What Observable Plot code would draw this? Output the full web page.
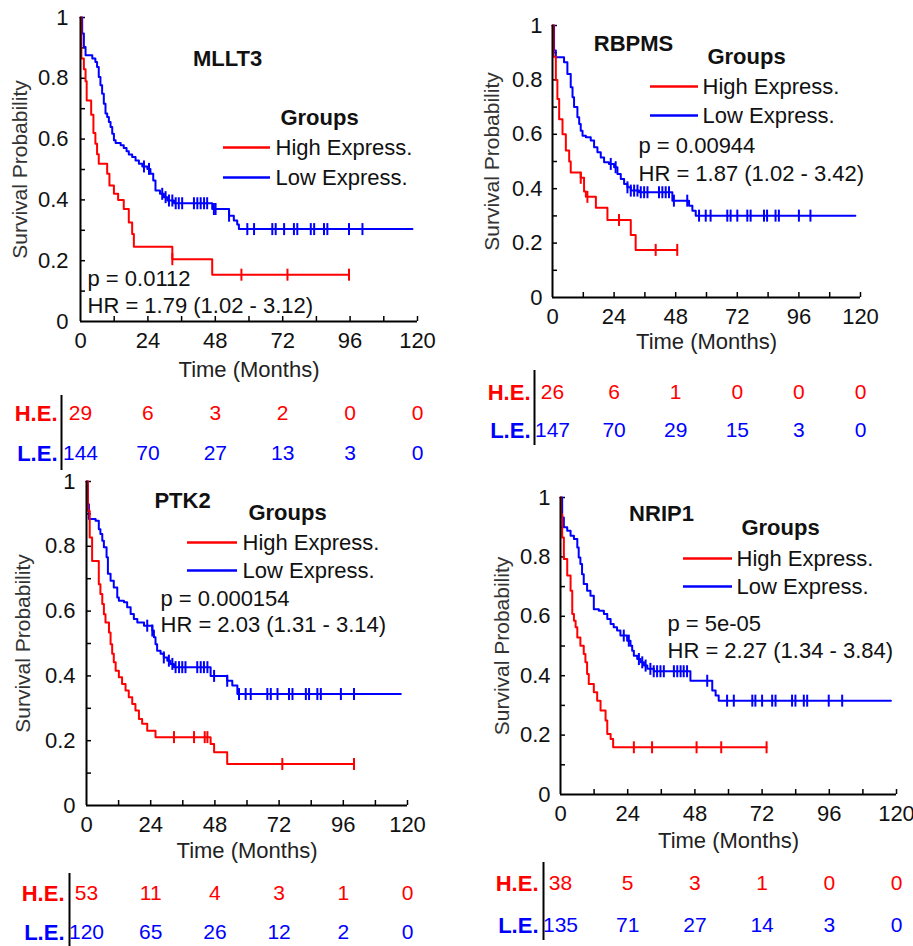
<!DOCTYPE html>
<html><head><meta charset="utf-8">
<script src="https://cdn.jsdelivr.net/npm/d3@7"></script>
<script src="https://cdn.jsdelivr.net/npm/@observablehq/plot@0.6"></script>
<style>
body{margin:0;background:#fff;}
#chart{position:relative;width:913px;height:946px;overflow:hidden;background:#fff;font-family:"Liberation Sans",Arial,sans-serif;}
#chart svg{position:absolute;overflow:visible;}
</style></head><body><div id="chart"></div>
<script>
// ---------- shared tick labels ----------
const xMajor = [0, 24, 48, 72, 96, 120];
const xMinor = [12, 24, 36, 48, 60, 72, 84, 96, 108, 120];
const yMajor = [0, 0.2, 0.4, 0.6, 0.8, 1];
const yMinor = [0.1, 0.2, 0.3, 0.4, 0.5, 0.6, 0.7, 0.8, 0.9, 1];
const riskTimes = [0, 24, 48, 72, 96, 120];
const groupNames = ["High Express.", "Low Express."];
const rowNames = ["H.E.", "L.E."];

// ---------- MLLT3 ----------
const mllt3HighT = [0, 0.3, 1.2, 1.8, 2.2, 3.8, 4.6, 5.3, 5.9, 6.5, 9.5, 10.3, 11.9, 13.4, 15.4, 17.2, 18.4, 19.0, 32.7, 46.9, 95.6];
const mllt3HighS = [1, 0.865, 0.83, 0.79, 0.727, 0.68, 0.62, 0.585, 0.55, 0.519, 0.486, 0.447, 0.42, 0.40, 0.37, 0.326, 0.288, 0.246, 0.205, 0.154, 0.154];
const mllt3HighCens = [32.7, 57.3, 73.7, 95.6];
const mllt3LowT = [0, 0.6, 1.2, 1.8, 4.2, 5.3, 5.9, 6.5, 7.1, 7.7, 8.3, 8.9, 9.5, 10.1, 10.7, 11.3, 11.9, 12.5, 14.3, 15.4, 16.4, 17.2, 18.4, 19.6, 20.8, 22.0, 23.8, 24.9, 25.9, 26.7, 28.3, 29.7, 30.9, 33.3, 46.9, 52.9, 54.6, 55.8, 56.4, 118.2];
const mllt3LowS = [1, 0.947, 0.903, 0.876, 0.865, 0.854, 0.837, 0.804, 0.777, 0.749, 0.716, 0.684, 0.673, 0.656, 0.640, 0.618, 0.596, 0.587, 0.580, 0.571, 0.560, 0.549, 0.541, 0.530, 0.519, 0.510, 0.502, 0.486, 0.464, 0.431, 0.420, 0.409, 0.398, 0.389, 0.370, 0.348, 0.332, 0.319, 0.304, 0.304];
const mllt3LowCens = [22.6, 24.4, 29.1, 30.3, 31.5, 32.7, 33.9, 35.0, 36.2, 40.4, 41.6, 42.8, 44.0, 45.1, 47.5, 48.1, 52.9, 59.4, 61.8, 68.3, 69.5, 72.5, 76.0, 77.2, 82.0, 83.2, 86.7, 87.9, 95.6, 100.4];
const mllt3RiskHigh = [29, 6, 3, 2, 0, 0];
const mllt3RiskLow = [144, 70, 27, 13, 3, 0];
const mllt3Stats = ["p = 0.0112", "HR = 1.79 (1.02 - 3.12)"];

// ---------- RBPMS ----------
const rbpmsHighT = [0, 0.4, 1.3, 1.9, 2.6, 3.9, 5.2, 6.5, 7.1, 11.0, 12.3, 13.0, 16.9, 21.4, 30.5, 32.4, 48.6];
const rbpmsHighS = [1, 0.885, 0.80, 0.73, 0.655, 0.60, 0.54, 0.50, 0.46, 0.44, 0.39, 0.37, 0.33, 0.285, 0.23, 0.175, 0.175];
const rbpmsHighCens = [11.0, 13.6, 25.9, 40.2, 48.6];
const rbpmsLowT = [0, 0.6, 1.3, 4.5, 5.8, 7.1, 7.8, 8.4, 9.7, 10.4, 11.0, 11.7, 13.0, 14.9, 16.2, 17.5, 18.8, 20.1, 22.0, 24.0, 25.3, 26.6, 27.9, 29.2, 30.5, 33.7, 46.7, 53.2, 54.5, 55.8, 118];
const rbpmsLowS = [1, 0.908, 0.883, 0.865, 0.822, 0.773, 0.736, 0.70, 0.663, 0.638, 0.613, 0.595, 0.589, 0.577, 0.552, 0.534, 0.515, 0.497, 0.491, 0.479, 0.454, 0.436, 0.417, 0.405, 0.393, 0.387, 0.356, 0.337, 0.319, 0.301, 0.301];
const rbpmsLowCens = [22.7, 24.6, 29.2, 30.5, 31.8, 33.1, 34.4, 35.7, 37.0, 41.5, 42.8, 44.1, 45.4, 47.3, 52.5, 57.1, 59.7, 61.6, 68.1, 69.4, 72.0, 75.9, 77.2, 82.4, 83.6, 86.9, 88.2, 96.0, 100.5];
const rbpmsRiskHigh = [26, 6, 1, 0, 0, 0];
const rbpmsRiskLow = [147, 70, 29, 15, 3, 0];
const rbpmsStats = ["p = 0.00944", "HR = 1.87 (1.02 - 3.42)"];

// ---------- PTK2 ----------
const ptk2HighT = [0, 0.5, 1.2, 2.1, 4.6, 5.2, 5.9, 6.5, 7.1, 8.4, 9.0, 9.6, 10.2, 10.9, 12.1, 13.3, 14.6, 15.8, 17.1, 18.3, 19.6, 20.8, 22.7, 25.8, 46.4, 47.7, 52.6, 100];
const ptk2HighS = [1, 0.91, 0.827, 0.755, 0.683, 0.653, 0.622, 0.59, 0.565, 0.534, 0.498, 0.468, 0.442, 0.416, 0.396, 0.375, 0.355, 0.334, 0.313, 0.293, 0.267, 0.252, 0.231, 0.211, 0.19, 0.164, 0.128, 0.128];
const ptk2HighCens = [32.7, 40.2, 44.2, 45.2, 73.2, 100];
const ptk2LowT = [0, 0.5, 0.9, 3.4, 4.6, 5.2, 5.9, 6.5, 7.5, 8.0, 9.0, 10.2, 11.5, 12.1, 14.0, 15.2, 16.5, 17.7, 19.0, 21.5, 24.6, 25.2, 25.8, 26.4, 27.7, 28.9, 30.2, 31.4, 32.7, 46.4, 52.6, 54.5, 56.4, 117.5];
const ptk2LowS = [1, 0.93, 0.884, 0.879, 0.853, 0.838, 0.817, 0.797, 0.766, 0.715, 0.694, 0.673, 0.642, 0.632, 0.627, 0.612, 0.591, 0.576, 0.565, 0.555, 0.54, 0.519, 0.498, 0.478, 0.468, 0.457, 0.447, 0.437, 0.427, 0.40, 0.385, 0.37, 0.344, 0.344];
const ptk2LowCens = [22.7, 24.6, 28.9, 30.8, 32.1, 33.3, 34.6, 35.8, 37.0, 41.4, 42.7, 43.9, 45.2, 47.7, 52.6, 57.0, 59.5, 61.4, 67.6, 68.9, 71.4, 75.7, 77.0, 82.0, 83.2, 86.3, 87.6, 95.1, 100.0];
const ptk2RiskHigh = [53, 11, 4, 3, 1, 0];
const ptk2RiskLow = [120, 65, 26, 12, 2, 0];
const ptk2Stats = ["p = 0.000154", "HR = 2.03 (1.31 - 3.14)"];

// ---------- NRIP1 ----------
const nrip1HighT = [0, 0.2, 0.6, 1.2, 2.4, 3.6, 4.2, 4.8, 5.4, 6.0, 7.1, 8.3, 8.9, 9.5, 10.1, 11.9, 13.1, 14.3, 16.1, 16.7, 17.9, 18.8, 73.6];
const nrip1HighS = [1, 0.944, 0.865, 0.793, 0.737, 0.686, 0.608, 0.585, 0.563, 0.529, 0.501, 0.473, 0.445, 0.406, 0.372, 0.344, 0.316, 0.283, 0.249, 0.204, 0.187, 0.159, 0.159];
const nrip1HighCens = [26.2, 32.7, 48.6, 57.4, 73.6];
const nrip1LowT = [0, 0.6, 1.2, 2.4, 3.6, 4.8, 6.0, 6.5, 7.1, 7.7, 8.3, 9.5, 10.7, 11.9, 13.7, 15.5, 16.7, 17.9, 19.0, 20.2, 21.4, 23.8, 25.0, 25.6, 26.2, 27.4, 28.6, 29.8, 31.0, 33.3, 46.4, 54.2, 55.4, 56.5, 118];
const nrip1LowS = [1, 0.933, 0.9, 0.888, 0.871, 0.86, 0.832, 0.798, 0.776, 0.742, 0.709, 0.686, 0.669, 0.624, 0.619, 0.608, 0.591, 0.574, 0.563, 0.552, 0.535, 0.518, 0.501, 0.484, 0.467, 0.456, 0.445, 0.434, 0.423, 0.415, 0.383, 0.35, 0.333, 0.316, 0.316];
const nrip1LowCens = [22.6, 24.4, 28.0, 29.2, 30.4, 32.1, 33.3, 34.5, 35.7, 36.9, 40.5, 41.7, 42.9, 44.0, 45.2, 52.4, 59.5, 61.9, 68.5, 69.6, 72.0, 75.6, 76.8, 82.7, 83.9, 86.9, 88.1, 95.8, 100.6];
const nrip1RiskHigh = [38, 5, 3, 1, 0, 0];
const nrip1RiskLow = [135, 71, 27, 14, 3, 0];
const nrip1Stats = ["p = 5e-05", "HR = 2.27 (1.34 - 3.84)"];

// ---------- styling / layout ----------
const RED = "#ff0000", BLUE = "#0000ff";
const FONT = "Liberation Sans, Arial, Helvetica, sans-serif";
const FS = 22;

const panels = [
  {gene: "MLLT3", hT: mllt3HighT, hS: mllt3HighS, hC: mllt3HighCens, lT: mllt3LowT, lS: mllt3LowS, lC: mllt3LowCens, rH: mllt3RiskHigh, rL: mllt3RiskLow, stats: mllt3Stats,
   left: 0, top: 0, width: 440, height: 470, mL: 80, mT: 17, mR: 23, mB: 149, xLabDy: 55, yLabDx: -60, yPad: 12,
   title: [227, 58], groups: [319, 117], leg: [223, 270, 275, 147, 177], statPos: [87, 278, 305], rows: [413, 453], rowLabX: 57, div: [61, 395, 470]},
  {gene: "RBPMS", hT: rbpmsHighT, hS: rbpmsHighS, hC: rbpmsHighCens, lT: rbpmsLowT, lS: rbpmsLowS, lC: rbpmsLowCens, rH: rbpmsRiskHigh, rL: rbpmsRiskLow, stats: rbpmsStats,
   left: 470, top: 0, width: 443, height: 450, mL: 82, mT: 25, mR: 53, mB: 153, xLabDy: 51, yLabDx: -60, yPad: 10,
   title: [633, 43], groups: [746, 56], leg: [650, 698, 702, 86, 115], statPos: [638, 145, 173], rows: [392, 430], rowLabX: 530, div: [534, 370, 445]},
  {gene: "PTK2", hT: ptk2HighT, hS: ptk2HighS, hC: ptk2HighCens, lT: ptk2LowT, lS: ptk2LowS, lC: ptk2LowCens, rH: ptk2RiskHigh, rL: ptk2RiskLow, stats: ptk2Stats,
   left: 0, top: 465, width: 440, height: 481, mL: 86, mT: 16, mR: 33, mB: 141, xLabDy: 52, yLabDx: -63, yPad: 11,
   title: [182, 500], groups: [287, 512], leg: [187, 237, 242, 542, 570], statPos: [160, 598, 624], rows: [893, 932], rowLabX: 64, div: [69, 873, 946]},
  {gene: "NRIP1", hT: nrip1HighT, hS: nrip1HighS, hC: nrip1HighCens, lT: nrip1LowT, lS: nrip1LowS, lC: nrip1LowCens, rH: nrip1RiskHigh, rL: nrip1RiskLow, stats: nrip1Stats,
   left: 470, top: 465, width: 443, height: 481, mL: 90, mT: 32, mR: 17, mB: 152, xLabDy: 53, yLabDx: -58, yPad: 10,
   title: [661, 513], groups: [780, 527], leg: [683, 732, 736, 558, 586], statPos: [667, 623, 650], rows: [883, 925], rowLabX: 538, div: [543, 862, 940]}
];

// vertical bar symbol for censoring marks
const vbar = {draw(ctx, size) { const r = Math.sqrt(size / Math.PI); ctx.moveTo(0, -r); ctx.lineTo(0, r); }};

function stepAt(T, S, c) { let s = S[0]; for (let i = 0; i < T.length; i++) if (T[i] <= c + 1e-9) s = S[i]; return s; }

function buildPanel(p) {
  const fw = p.width - p.mL - p.mR, fh = p.height - p.mT - p.mB;
  const X = px => (px - p.left - p.mL) / fw * 120;
  const Y = py => 1 - (py - p.top - p.mT) / fh;
  const high = p.hT.map((t, i) => ({t, s: p.hS[i]}));
  const low = p.lT.map((t, i) => ({t, s: p.lS[i]}));
  const highC = p.hC.map(t => ({t, s: stepAt(p.hT, p.hS, t)}));
  const lowC = p.lC.map(t => ({t, s: stepAt(p.lT, p.lS, t)}));
  const riskH = riskTimes.map((t, i) => ({t, n: p.rH[i]}));
  const riskL = riskTimes.map((t, i) => ({t, n: p.rL[i]}));
  const heads = [
    {x: X(p.title[0]), y: Y(p.title[1]), text: p.gene},
    {x: X(p.groups[0]), y: Y(p.groups[1]), text: "Groups"}
  ];
  const starts = [
    {x: X(p.leg[2]), y: Y(p.leg[3]), text: groupNames[0]},
    {x: X(p.leg[2]), y: Y(p.leg[4]), text: groupNames[1]},
    {x: X(p.statPos[0]), y: Y(p.statPos[1]), text: p.stats[0]},
    {x: X(p.statPos[0]), y: Y(p.statPos[2]), text: p.stats[1]}
  ];
  const rowLabs = [
    {x: X(p.rowLabX), y: Y(p.rows[0]), text: rowNames[0], c: RED},
    {x: X(p.rowLabX), y: Y(p.rows[1]), text: rowNames[1], c: BLUE}
  ];
  const legLines = [
    {x1: X(p.leg[0]), x2: X(p.leg[1]), y: Y(p.leg[3]), c: RED},
    {x1: X(p.leg[0]), x2: X(p.leg[1]), y: Y(p.leg[4]), c: BLUE}
  ];
  const svg = Plot.plot({
    width: p.width, height: p.height,
    marginLeft: p.mL, marginTop: p.mT, marginRight: p.mR, marginBottom: p.mB,
    style: {fontFamily: FONT, fontSize: FS + "px", color: "#111", background: "transparent", overflow: "visible"},
    x: {domain: [0, 120]},
    y: {domain: [0, 1]},
    marks: [
      Plot.tickX(xMinor, {x: d => d, insetTop: fh - 5, stroke: "#000", strokeWidth: 1.5}),
      Plot.tickY(yMinor, {y: d => d, insetRight: fw - 5, stroke: "#000", strokeWidth: 1.5}),
      Plot.axisX({ticks: xMajor, tickSize: 0, tickPadding: 11, fontSize: FS, tickFormat: d => String(d), label: null}),
      Plot.axisY({ticks: yMajor, tickSize: 0, tickPadding: p.yPad, fontSize: FS, tickFormat: d => String(+d.toFixed(1)), label: null}),
      Plot.text(["Time (Months)"], {frameAnchor: "bottom", dy: p.xLabDy, textAnchor: "middle", fontSize: FS, fill: "#222"}),
      Plot.text(["Survival Probability"], {frameAnchor: "left", dx: p.yLabDx, rotate: -90, textAnchor: "middle", fontSize: 21, fill: "#333"}),
      Plot.ruleY(legLines, {x1: "x1", x2: "x2", y: "y", stroke: "c", strokeWidth: 2.5}),
      Plot.line(low, {x: "t", y: "s", curve: "step-after", stroke: BLUE, strokeWidth: 2}),
      Plot.dot(lowC, {x: "t", y: "s", symbol: vbar, r: 6, stroke: BLUE, strokeWidth: 2, fill: "none"}),
      Plot.line(high, {x: "t", y: "s", curve: "step-after", stroke: RED, strokeWidth: 2}),
      Plot.dot(highC, {x: "t", y: "s", symbol: vbar, r: 6, stroke: RED, strokeWidth: 2, fill: "none"}),
      Plot.ruleX([0], {stroke: "#000", strokeWidth: 2}),
      Plot.ruleY([0], {stroke: "#000", strokeWidth: 2}),
      Plot.text(heads, {x: "x", y: "y", text: "text", textAnchor: "middle", fontWeight: "bold", fill: "#111", fontSize: FS}),
      Plot.text(starts, {x: "x", y: "y", text: "text", textAnchor: "start", fill: "#111", fontSize: FS}),
      Plot.text(rowLabs, {x: "x", y: "y", text: "text", textAnchor: "end", fontWeight: "bold", fill: "c", fontSize: FS}),
      Plot.text(riskH, {x: "t", y: () => Y(p.rows[0]), text: d => String(d.n), fill: RED, fontSize: 21}),
      Plot.text(riskL, {x: "t", y: () => Y(p.rows[1]), text: d => String(d.n), fill: BLUE, fontSize: 21}),
      Plot.ruleX([X(p.div[0])], {y1: Y(p.div[1]), y2: Y(p.div[2]), stroke: "#000", strokeWidth: 2})
    ]
  });
  svg.style.left = p.left + "px";
  svg.style.top = p.top + "px";
  return svg;
}

const host = document.getElementById("chart");
for (const p of panels) host.appendChild(buildPanel(p));
</script>
</body></html>
